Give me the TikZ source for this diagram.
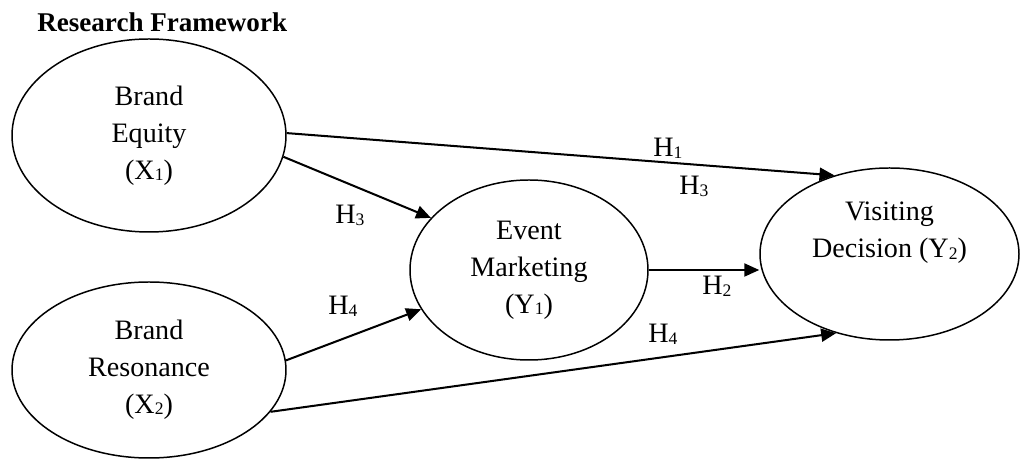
\documentclass[tikz,border=0pt]{standalone}
\usepackage{fontspec}
\setmainfont{Liberation Serif}
\usepackage{tikz}
\usetikzlibrary{shapes.geometric, arrows.meta}
\newcommand{\hsub}[1]{\raisebox{-0.1ex}{\fontsize{10}{12}\selectfont #1}}

\begin{document}
\begin{tikzpicture}[
font=\fontsize{16}{21}\selectfont,
varbox/.style={
ellipse,
draw=black,
line width=0.85pt,
align=center,
inner sep=0pt
},
hyparrow/.style={
line width=1.15pt,
-{Triangle[length=8.5pt,width=7.4pt]}
},
hlabel/.style={
anchor=base west,
inner sep=0pt
}
]
\useasboundingbox (0,0) rectangle (20.4,9.18);

\node[hlabel, font=\fontsize{15.4}{17}\selectfont\bfseries] (title) at (0.74,8.54)
{Research Framework};

\node[varbox, minimum width=5.48cm, minimum height=3.86cm] (equity) at (2.98,6.47)
{Brand\\Equity\\(X\hsub{1})};

\node[varbox, minimum width=5.48cm, minimum height=3.52cm] (resonance) at (2.98,1.78)
{Brand\\Resonance\\(X\hsub{2})};

\node[varbox, minimum width=4.76cm, minimum height=3.6cm] (event) at (10.58,3.78)
{Event\\Marketing\\(Y\hsub{1})};

\node[varbox, minimum width=5.18cm, minimum height=3.44cm] (visiting) at (17.79,4.1)
{Visiting\\Decision (Y\hsub{2})\\\strut};

% Hypothesis paths
\draw[hyparrow] (equity.1) -- (visiting.125);
\draw[hyparrow] (equity.-9) -- (event.152);
\draw[hyparrow] (resonance.4) -- (event.-160);
\draw[hyparrow] (resonance.-19) -- (visiting.-124);
\draw[hyparrow] (event.east) -- (event.east -| visiting.west);

% Hypothesis labels
\node[hlabel] (h1) at (13.06,6.04) {H\hsub{1}};
\node[hlabel] (h3b) at (13.58,5.28) {H\hsub{3}};
\node[hlabel] (h3a) at (6.7,4.7) {H\hsub{3}};
\node[hlabel] (h4a) at (6.56,2.88) {H\hsub{4}};
\node[hlabel] (h2) at (14.04,3.28) {H\hsub{2}};
\node[hlabel] (h4b) at (12.96,2.32) {H\hsub{4}};

\end{tikzpicture}
\end{document}
